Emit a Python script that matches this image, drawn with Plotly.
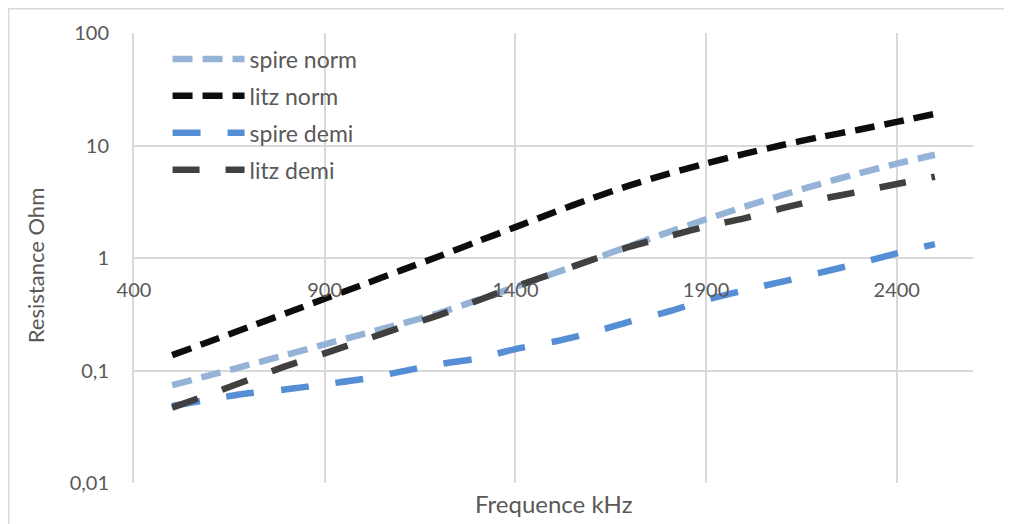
import plotly.graph_objects as go

freq_khz = [500, 600, 700, 800, 900, 1000, 1100, 1200, 1300, 1400, 1500,
            1600, 1700, 1800, 1900, 2000, 2100, 2200, 2300, 2400, 2500]

spire_norm = [0.074, 0.091, 0.112, 0.138, 0.171, 0.211, 0.26, 0.324, 0.422, 0.552, 0.728,
              0.966, 1.28, 1.69, 2.21, 2.85, 3.63, 4.57, 5.65, 6.89, 8.28]
litz_norm = [0.137, 0.182, 0.243, 0.324, 0.435, 0.579, 0.776, 1.035, 1.40, 1.88, 2.54,
             3.39, 4.42, 5.60, 6.92, 8.41, 10.1, 11.9, 13.8, 16.2, 19.1]
spire_demi = [0.0483, 0.0555, 0.0627, 0.068, 0.0754, 0.084, 0.0977, 0.114, 0.128, 0.155, 0.18,
              0.217, 0.272, 0.333, 0.425, 0.516, 0.616, 0.741, 0.897, 1.10, 1.33]
litz_demi = [0.0468, 0.0618, 0.0824, 0.11, 0.142, 0.185, 0.242, 0.311, 0.417, 0.556, 0.731,
             0.96, 1.26, 1.55, 1.91, 2.25, 2.77, 3.33, 3.88, 4.55, 5.28]

series_names = ["spire norm", "litz norm", "spire demi", "litz demi"]
x_tickvals = [400, 900, 1400, 1900, 2400]
y_tickvals = [0.01, 0.1, 1, 10, 100]
y_ticktext = ["0,01", "0,1", "1", "10", "100"]
x_title = "Frequence kHz"
y_title = "Resistance Ohm"

FONT = "Lato, 'Open Sans', sans-serif"
GRAY_TXT = "#595959"
GRID = "#d9d9d9"

styles = [
    dict(color="#95B3D7", dash="20px,10px"),
    dict(color="#0D0D0D", dash="20px,10px"),
    dict(color="#558ED5", dash="28px,27px"),
    dict(color="#404040", dash="27px,26px"),
]

fig = go.Figure()
for i, (name, ys) in enumerate(zip(series_names, [spire_norm, litz_norm, spire_demi, litz_demi])):
    fig.add_trace(go.Scatter(
        x=freq_khz, y=ys, name=name, mode="lines",
        legendgroup=f"g{i}",
        line=dict(color=styles[i]["color"], dash=styles[i]["dash"], width=6.5,
                  shape="spline", smoothing=0.8),
    ))

fig.update_layout(
    width=1004, height=516,
    margin=dict(l=126, r=39, t=25, b=41),
    paper_bgcolor="white", plot_bgcolor="white",
    font=dict(family=FONT, size=20, color=GRAY_TXT),
    showlegend=True,
    legend=dict(
        x=0.04, y=0.99, xanchor="left", yanchor="top",
        bgcolor="rgba(0,0,0,0)", font=dict(family=FONT, size=23, color=GRAY_TXT),
        tracegroupgap=4, itemwidth=72,
    ),
    xaxis=dict(
        range=[400, 2600], tickvals=x_tickvals, showgrid=True, gridcolor=GRID, gridwidth=2,
        zeroline=False, showline=False, ticks="", anchor="free", position=0.5,
        ticklabelstandoff=18,
        tickfont=dict(family=FONT, size=20, color=GRAY_TXT),
    ),
    yaxis=dict(
        type="log", range=[-2, 2], tickvals=y_tickvals, ticktext=y_ticktext,
        showgrid=True, gridcolor=GRID, gridwidth=2, zeroline=False,
        showline=True, linecolor=GRID, linewidth=2, ticks="",
        ticklabelstandoff=19,
        tickfont=dict(family=FONT, size=20, color=GRAY_TXT),
    ),
    annotations=[
        dict(text=x_title, xref="paper", yref="paper", x=0.5, y=-0.045,
             xanchor="center", yanchor="middle", showarrow=False,
             font=dict(family=FONT, size=24, color=GRAY_TXT)),
        dict(text=y_title, xref="paper", yref="paper", x=-0.118, y=0.484,
             xanchor="center", yanchor="middle", textangle=-90, showarrow=False,
             font=dict(family=FONT, size=22, color=GRAY_TXT)),
    ],
    shapes=[
        dict(type="rect", xref="paper", yref="paper", x0=-0.1493, y0=-0.3,
             x1=1.2, y1=1.0539, line=dict(color=GRID, width=1.5), layer="below"),
    ],
)

fig.write_html("out.html")
